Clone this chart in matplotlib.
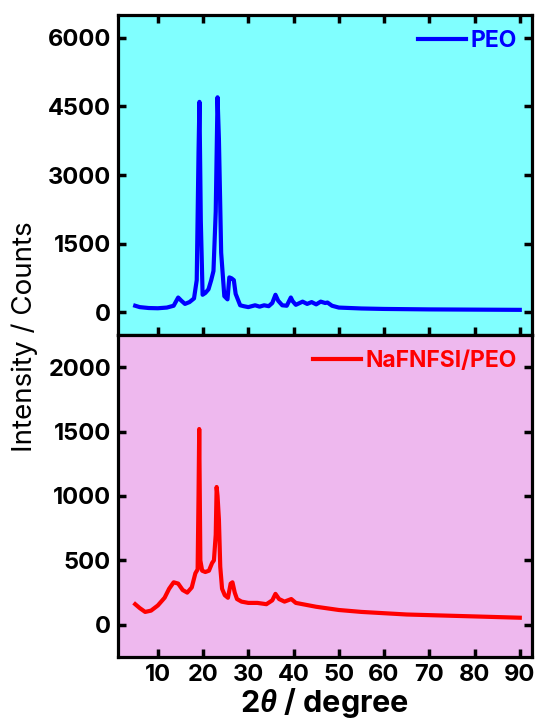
import matplotlib
matplotlib.use("Agg")
import matplotlib.pyplot as plt

plt.rcParams['font.family'] = ['Inter', 'Liberation Sans', 'DejaVu Sans']
plt.rcParams['mathtext.fontset'] = 'custom'
plt.rcParams['mathtext.it'] = 'Liberation Sans:italic:bold'
plt.rcParams['mathtext.rm'] = 'Liberation Sans:bold'

# PEO (oben)
peo_x = [5, 6, 8, 10, 12, 13.5, 14.5, 15.2, 16, 17, 18, 18.6, 19.0, 19.2, 19.5, 19.9,
         20.5, 21.2, 21.8, 22.3, 22.8, 23.2, 23.5, 24, 24.7, 25.4, 25.8, 26.3, 26.8,
         27.2, 27.6, 28.2, 29, 30, 31.5, 32.5, 33.5, 34.5, 35.3, 36, 36.6, 37.5, 38.5,
         39.4, 39.8, 40.5, 42, 43, 44, 45, 46, 47, 47.5, 48.5, 50, 55, 60, 70, 80, 90]
peo_y = [140, 110, 90, 85, 100, 140, 320, 250, 180, 220, 300, 700, 3500, 4600, 2000, 380,
         420, 500, 700, 900, 2200, 4700, 3800, 1300, 350, 280, 760, 740, 700,
         400, 300, 150, 130, 110, 150, 120, 150, 130, 200, 380, 250, 150, 140,
         320, 240, 160, 230, 180, 220, 170, 230, 200, 210, 140, 100, 80, 70, 60, 55, 50]

# NaFNFSI/PEO (unten)
na_x = [5, 6, 7.2, 8.5, 10, 11.5, 12.5, 13.5, 14.5, 15.5, 16.5, 17.5, 18.3, 18.8, 19.0,
        19.15, 19.4, 19.8, 20.5, 21.3, 22, 22.4, 22.8, 23.0, 23.2, 23.5, 23.8, 24.2,
        24.8, 25.5, 26.1, 26.5, 27, 27.5, 28.5, 30, 32, 34, 35.3, 36, 36.8, 38, 39.5,
        40.5, 42, 45, 50, 55, 60, 65, 70, 75, 80, 85, 90]
na_y = [160, 130, 100, 110, 150, 210, 280, 330, 320, 270, 250, 290, 400, 430, 1000,
        1520, 500, 420, 410, 420, 480, 500, 700, 1070, 1000, 820, 450, 280,
        230, 210, 320, 330, 250, 200, 180, 170, 170, 160, 190, 240, 200, 180, 200,
        170, 160, 140, 115, 100, 90, 80, 75, 70, 65, 60, 55]

x_ticks = [10, 20, 30, 40, 50, 60, 70, 80, 90]
top_yticks = [0, 1500, 3000, 4500, 6000]
bot_yticks = [0, 500, 1000, 1500, 2000]

fig = plt.figure(figsize=(5.39, 7.22), dpi=100)
L, R = 118 / 539, 532 / 539
ax1 = fig.add_axes([L, 1 - 335 / 722, R - L, 320 / 722])
ax2 = fig.add_axes([L, 1 - 657 / 722, R - L, 322 / 722])

ax1.set_facecolor('#80FFFF')
ax2.set_facecolor('#EEB8EE')

ax1.plot(peo_x, peo_y, color='#0000FF', lw=3, label='PEO')
ax2.plot(na_x, na_y, color='#FF0000', lw=3, label='NaFNFSI/PEO')

ax1.set_ylim(-500, 6500)
ax2.set_ylim(-250, 2250)
ax1.set_yticks(top_yticks)
ax2.set_yticks(bot_yticks)

for ax in (ax1, ax2):
    ax.set_xlim(1.2, 92.7)
    ax.set_xticks(x_ticks)
    for s in ax.spines.values():
        s.set_linewidth(2.3)
    ax.tick_params(direction='in', length=6, width=2.5, labelsize=17, right=True, pad=5)
    for lab in ax.get_xticklabels() + ax.get_yticklabels():
        lab.set_fontweight('bold')
    leg = ax.legend(loc='upper right', frameon=False, labelcolor='linecolor',
                    prop={'weight': 'bold', 'size': 16.5}, handlelength=2.1,
                    handletextpad=0.2, borderaxespad=0.25)

ax1.tick_params(top=True, labelbottom=False)
ax2.tick_params(top=False)

ax2.set_xlabel(r'2$\theta$ / degree', fontsize=22, fontweight='bold', labelpad=0)
fig.text(0.045, 1 - 337 / 722, 'Intensity / Counts', rotation=90, fontsize=20,
         ha='center', va='center')

fig.savefig('out.png', dpi=100)
